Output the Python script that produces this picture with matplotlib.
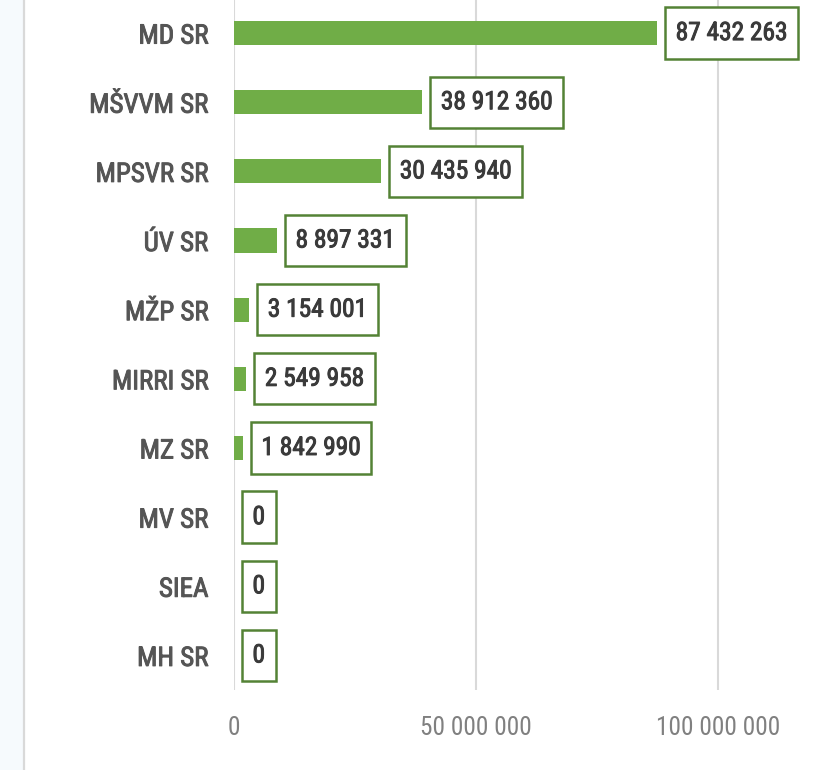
import matplotlib
matplotlib.use("Agg")
import matplotlib.pyplot as plt
from matplotlib.lines import Line2D
from matplotlib.patches import Rectangle
from matplotlib import font_manager
import matplotlib.patheffects as pe
import matplotlib.transforms as mtransforms

categories = ["MD SR", "MŠVVM SR", "MPSVR SR", "ÚV SR", "MŽP SR",
              "MIRRI SR", "MZ SR", "MV SR", "SIEA", "MH SR"]
values = [87432263, 38912360, 30435940, 8897331, 3154001,
          2549958, 1842990, 0, 0, 0]
xticks = [0, 50000000, 100000000]
xtick_labels = ["0", "50 000 000", "100 000 000"]

names = {f.name for f in font_manager.fontManager.ttflist}
candidates = ["Liberation Sans Narrow", "Arial Narrow", "Roboto Condensed",
              "Open Sans Condensed", "Noto Sans Condensed", "Lato"]
chosen = next((c for c in candidates if c in names), None)
if chosen:
    plt.rcParams["font.family"] = [chosen, "DejaVu Sans"]
    plt.rcParams["font.stretch"] = "normal"
else:
    plt.rcParams["font.family"] = ["DejaVu Sans"]
    plt.rcParams["font.stretch"] = "condensed"

W, H = 818, 770
fig = plt.figure(figsize=(W / 100, H / 100), dpi=100)
fig.patch.set_facecolor("white")
renderer = fig.canvas.get_renderer()


def fit_size(txt, target_px, base=20):
    t = fig.text(0, 0, txt, fontsize=base)
    w = t.get_window_extent(renderer).width
    t.remove()
    return base * target_px / w


val_fs = fit_size("87 432 263", 112)
cat_fs = fit_size("MD SR", 70)
tick_fs = fit_size("50 000 000", 112)

cat_color = "#555555"
val_color = "#3a3a3a"

# faint left margin and border line
fig.add_artist(Rectangle((0, 0), 23 / W, 1, transform=fig.transFigure,
                         facecolor="#f6fafd", edgecolor="none", zorder=0))
fig.add_artist(Line2D([24 / W, 24 / W], [0, 1], transform=fig.transFigure,
                      color="#d9d9d9", lw=1.6, zorder=1))

left = 234 / W
bottom = (H - 690) / H
top = (H + 1.5) / H
ax = fig.add_axes([left, bottom, 580.8 / W, top - bottom])
ax.set_facecolor("none")

y = list(range(len(categories)))
ax.barh(y, values, height=0.35, color="#70ad47", zorder=3)
ax.set_xlim(0, 120000000)
ax.set_ylim(len(categories) - 0.5, -0.5)

ax.set_yticks(y)
ax.set_yticklabels(categories)
ax.set_xticks(xticks)
ax.set_xticklabels(xtick_labels)
ax.tick_params(axis="y", length=0, pad=18.5, labelsize=cat_fs, labelcolor=cat_color)
ax.tick_params(axis="x", length=0, pad=18.5, labelsize=tick_fs, labelcolor="#808080")
for lbl in ax.get_yticklabels():
    lbl.set_path_effects([pe.withStroke(linewidth=0.7, foreground=cat_color)])
for s in ax.spines.values():
    s.set_visible(False)
ax.grid(axis="x", color="#d9d9d9", lw=1.5, zorder=0)
ax.set_axisbelow(True)

pad_px = 10.5
pad_frac = pad_px / (val_fs * 100 / 72)
offset = mtransforms.offset_copy(ax.transData, fig=fig, x=8 + pad_px, y=0, units="dots")
for yi, v in zip(y, values):
    label = f"{v:,}".replace(",", " ")
    ax.text(v, yi, label, transform=offset, ha="left", va="center",
            fontsize=val_fs, color=val_color, zorder=5,
            path_effects=[pe.withStroke(linewidth=0.7, foreground=val_color)],
            bbox=dict(boxstyle=f"square,pad={pad_frac:.3f}", facecolor="white",
                      edgecolor="#548235", lw=1.8, mutation_aspect=1.3))

fig.savefig("out.png", dpi=100, facecolor="white")
